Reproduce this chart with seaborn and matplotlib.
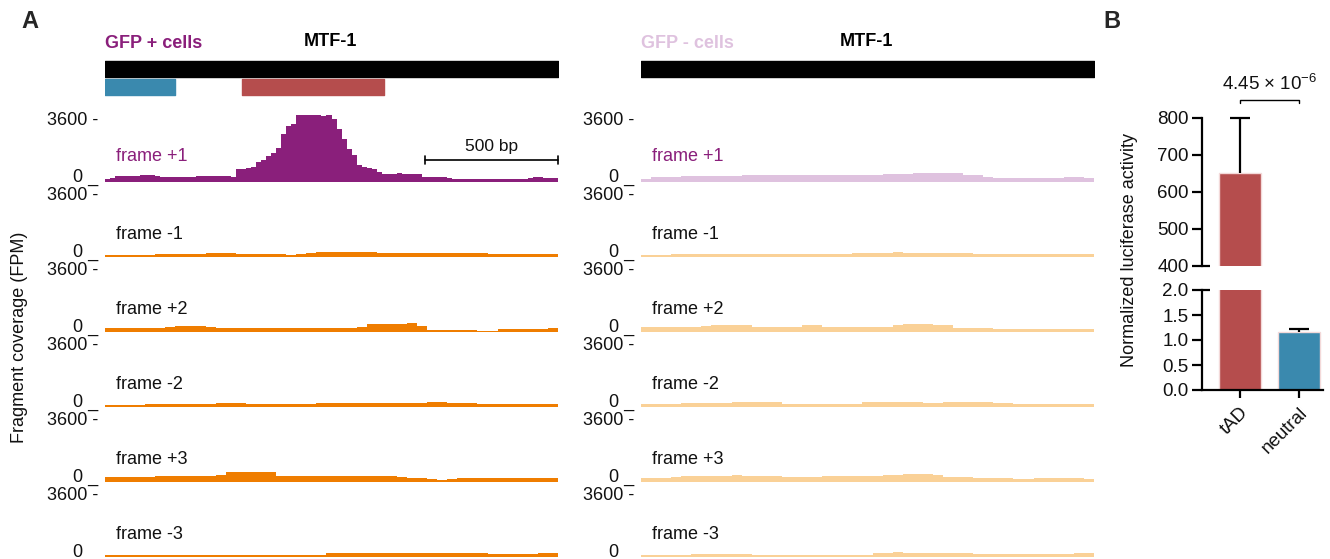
import numpy as np
import pandas as pd
import matplotlib
matplotlib.use("Agg")
import matplotlib.pyplot as plt
import matplotlib.transforms as mtransforms
import seaborn as sns

# ---------------- data ----------------
REGION_BP = 1700
SCALEBAR_BP = 500
NEUTRAL_REGION = (0, 262)
TAD_REGION = (516, 1046)
FRAMES = ["frame +1", "frame -1", "frame +2", "frame -2", "frame +3", "frame -3"]

gfp_pos_f_p1 = [160, 200, 340, 340, 340, 340, 360, 400, 400, 400,
                340, 300, 300, 300, 300, 300, 300, 300, 320, 330,
                340, 340, 340, 340, 340, 300, 760, 740, 800, 880,
                1140, 1300, 1540, 1680, 2000, 2820, 3280, 3400, 3960, 3960,
                3960, 3960, 3930, 3900, 3960, 3700, 3100, 2500, 1900, 1600,
                1000, 880, 820, 760, 600, 460, 460, 460, 500, 480,
                460, 460, 440, 280, 260, 260, 260, 250, 220, 170,
                160, 160, 150, 160, 160, 170, 160, 150, 160, 160,
                160, 160, 170, 160, 200, 260, 260, 220, 200, 200]
gfp_pos_f_m1 = [120, 120, 120, 120, 120, 160, 160, 160, 160, 180,
                200, 200, 200, 160, 160, 160, 160, 150, 120, 160,
                240, 280, 280, 280, 280, 280, 260, 200, 200, 200,
                220, 220, 220, 220, 220, 220, 220, 200, 160, 160,
                160, 160, 160, 160, 160]
gfp_pos_f_p2 = [240, 240, 240, 240, 240, 240, 300, 320, 320, 320,
                300, 240, 240, 240, 240, 240, 240, 240, 240, 240,
                240, 230, 200, 200, 200, 260, 480, 480, 470, 480,
                500, 360, 120, 120, 120, 120, 110, 60, 70, 140,
                140, 140, 140, 140, 190]
gfp_pos_f_m2 = [120, 120, 120, 120, 150, 160, 160, 160, 160, 160,
                160, 200, 220, 220, 170, 160, 160, 160, 160, 160,
                160, 190, 200, 200, 200, 200, 200, 200, 200, 200,
                200, 230, 260, 250, 220, 220, 210, 160, 160, 160,
                160, 160, 160, 160, 160]
gfp_pos_f_p3 = [260, 260, 260, 260, 300, 320, 320, 320, 320, 320,
                320, 380, 560, 560, 560, 580, 560, 320, 340, 360,
                360, 360, 360, 360, 360, 360, 360, 360, 360, 280,
                230, 200, 170, 120, 130, 200, 200, 200, 210, 220,
                220, 220, 220, 220, 220]
gfp_pos_f_m3 = [80, 80, 80, 80, 80, 80, 80, 80, 80, 80,
                80, 80, 120, 120, 120, 120, 120, 120, 120, 120,
                120, 120, 200, 200, 200, 200, 200, 200, 200, 200,
                200, 200, 200, 200, 200, 200, 200, 200, 140, 140,
                140, 140, 140, 200, 200]

gfp_neg_f_p1 = [170, 250, 250, 280, 330, 330, 340, 330, 340, 350,
                370, 370, 380, 370, 380, 390, 410, 410, 400, 390,
                390, 390, 400, 410, 430, 440, 470, 490, 510, 530,
                530, 490, 400, 370, 300, 210, 210, 230, 230, 230,
                240, 240, 260, 290, 220]
gfp_neg_f_m1 = [100, 100, 100, 160, 160, 160, 160, 160, 160, 160,
                160, 160, 160, 170, 180, 180, 180, 180, 180, 180,
                180, 240, 240, 240, 240, 300, 240, 240, 240, 240,
                240, 240, 240, 160, 160, 160, 160, 160, 160, 160,
                160, 160, 160, 160, 160]
gfp_neg_f_p2 = [300, 300, 300, 280, 260, 260, 320, 380, 380, 380,
                380, 300, 300, 300, 300, 300, 380, 380, 300, 300,
                300, 300, 300, 300, 300, 380, 440, 440, 440, 380,
                380, 240, 240, 240, 240, 180, 180, 180, 180, 180,
                180, 180, 180, 180, 180]
gfp_neg_f_m2 = [140, 140, 140, 140, 200, 200, 240, 240, 240, 280,
                280, 280, 280, 280, 180, 180, 180, 180, 180, 180,
                180, 180, 280, 280, 280, 280, 280, 280, 240, 200,
                280, 280, 280, 280, 280, 220, 220, 180, 180, 180,
                180, 180, 180, 180, 180]
gfp_neg_f_p3 = [220, 220, 220, 280, 340, 340, 340, 340, 340, 400,
                340, 340, 340, 340, 300, 260, 260, 260, 340, 340,
                340, 340, 340, 340, 380, 380, 440, 440, 440, 400,
                300, 300, 300, 220, 220, 220, 220, 180, 180, 220,
                220, 220, 220, 240, 180]
gfp_neg_f_m3 = [80, 80, 80, 80, 80, 140, 140, 140, 140, 140,
                140, 120, 120, 120, 120, 120, 120, 120, 120, 120,
                120, 120, 120, 200, 200, 260, 200, 200, 200, 200,
                200, 200, 200, 140, 140, 140, 140, 140, 140, 140,
                140, 140, 140, 220, 220]

gfp_pos_tracks = [gfp_pos_f_p1, gfp_pos_f_m1, gfp_pos_f_p2, gfp_pos_f_m2, gfp_pos_f_p3, gfp_pos_f_m3]
gfp_neg_tracks = [gfp_neg_f_p1, gfp_neg_f_m1, gfp_neg_f_p2, gfp_neg_f_m2, gfp_neg_f_p3, gfp_neg_f_m3]

luc_categories = ["tAD", "neutral"]
luc_means = [650, 1.165]
luc_err = [150, 0.055]
p_value_label = r"4.45 × 10$^{-6}$"

# ---------------- style ----------------
sns.set_theme(style="white")
plt.rcParams["font.family"] = ["Liberation Sans", "DejaVu Sans"]
plt.rcParams["mathtext.fontset"] = "custom"
plt.rcParams["mathtext.rm"] = "Liberation Sans"
plt.rcParams["mathtext.it"] = "Liberation Sans:italic"
plt.rcParams["mathtext.bf"] = "Liberation Sans:bold"
plt.rcParams["mathtext.default"] = "regular"

PURPLE = "#8a1f7b"
PINK = "#dfc2df"
ORANGE = "#ef7d00"
LIGHT_ORANGE = "#fad197"
RED = "#b54d4d"
BLUE = "#3a89ae"
TXT = "#111111"
FS = 13

W, H = 1330, 559
fig = plt.figure(figsize=(W / 100, H / 100), dpi=100)


def rect(l, t, r, b):
    return [l / W, 1 - b / H, (r - l) / W, (b - t) / H]


TRACK_H = 67.8
YMAX = 4000
panels = [
    (105, 558, gfp_pos_tracks, PURPLE, ORANGE, "GFP + cells", PURPLE, True),
    (641, 1094, gfp_neg_tracks, PINK, LIGHT_ORANGE, "GFP - cells", PINK, False),
]

for (x0, x1, tracks, c_first, c_rest, head, head_col, with_boxes) in panels:
    # header: gene bar and regions
    hax = fig.add_axes(rect(x0, 55, x1, 100))
    hax.set_xlim(0, REGION_BP)
    hax.set_ylim(100, 55)
    hax.axis("off")
    hax.broken_barh([(0, REGION_BP)], (61, 16), color="black")
    if with_boxes:
        hax.broken_barh([(NEUTRAL_REGION[0], NEUTRAL_REGION[1] - NEUTRAL_REGION[0])], (79, 16), color=BLUE)
        hax.broken_barh([(TAD_REGION[0], TAD_REGION[1] - TAD_REGION[0])], (79, 16), color=RED)
    fig.text(x0 / W, 1 - 44 / H, head, color=head_col, fontsize=13, fontweight="bold",
             ha="left", va="center")
    fig.text((x0 + 225) / W, 1 - 42 / H, "MTF-1", color="black", fontsize=13,
             fontweight="bold", ha="center", va="center")

    for k, vals in enumerate(tracks):
        base = 181.7 + 75 * k
        ax = fig.add_axes(rect(x0, base - TRACK_H, x1, base))
        nb = len(vals)
        edges = np.linspace(0, REGION_BP, nb + 1)
        centers = (edges[:-1] + edges[1:]) / 2
        df = pd.DataFrame({"pos": centers, "fpm": vals})
        sns.histplot(data=df, x="pos", weights="fpm", bins=nb, binrange=(0, REGION_BP),
                     element="step", fill=True, alpha=1, linewidth=0,
                     color=c_first if k == 0 else c_rest, ax=ax)
        ax.set_xlim(0, REGION_BP)
        ax.set_ylim(0, YMAX)
        ax.axis("off")
        tr = mtransforms.blended_transform_factory(ax.transAxes, ax.transData)
        xoff = -6.5 / (x1 - x0)
        ax.text(xoff, 3600, "3600 -", transform=tr, ha="right", va="center",
                fontsize=FS, color=TXT)
        ax.text(xoff, 0, "0 _", transform=tr, ha="right", va="baseline",
                fontsize=FS, color=TXT)
        ax.text(41, 1480 if k == 0 else 1290, FRAMES[k], ha="left", va="center",
                fontsize=FS, color=PURPLE if k == 0 else TXT)
        if k == 0 and with_boxes:
            sb0 = REGION_BP - SCALEBAR_BP
            ax.plot([sb0, REGION_BP], [1280, 1280], color="black", lw=1.2, clip_on=False)
            for xx in (sb0, REGION_BP):
                ax.plot([xx, xx], [1050, 1510], color="black", lw=1.2, clip_on=False)
            ax.text((sb0 + REGION_BP) / 2, 2100, f"{SCALEBAR_BP} bp", ha="center",
                    va="center", fontsize=FS - 0.5, color=TXT)

fig.text(20 / W, 1 - 337 / H, "Fragment coverage (FPM)", rotation=90, ha="center",
         va="center", fontsize=FS, color=TXT)
fig.text(30 / W, 1 - 22 / H, "A", fontsize=17, fontweight="bold", ha="center", va="center")
fig.text(1112 / W, 1 - 22 / H, "B", fontsize=17, fontweight="bold", ha="center", va="center")

# ---------------- panel B ----------------
LW = 1.6
ax_up = fig.add_axes(rect(1201.7, 117.7, 1323, 265.7))
ax_lo = fig.add_axes(rect(1201.7, 290, 1323, 390))
bdf = pd.DataFrame({"cat": luc_categories, "val": luc_means})
for ax in (ax_up, ax_lo):
    sns.barplot(data=bdf, x="cat", y="val", hue="cat", palette=[RED, BLUE], legend=False,
                saturation=1, width=0.707, edgecolor="#f3d9d9", linewidth=1,
                errorbar=None, ax=ax)
    ax.set_xlim(-0.65, 1.41)
    ax.set_xlabel("")
    ax.set_ylabel("")
    for s in ("top", "right"):
        ax.spines[s].set_visible(False)
    ax.spines["left"].set_linewidth(LW)
    ax.spines["left"].set_color("black")
    ax.tick_params(axis="y", length=7.5, width=LW, color="black", labelsize=13.5,
                   pad=2, left=True, labelcolor=TXT)


def upper_error(ax, i, clip):
    top = luc_means[i] + luc_err[i]
    ax.errorbar([i], [luc_means[i]], yerr=[[0], [luc_err[i]]], fmt="none",
                ecolor="black", elinewidth=LW, capsize=0, clip_on=clip)
    ax.plot([i], [top], marker="_", markersize=15, markeredgewidth=LW,
            color="black", clip_on=clip)


upper_error(ax_up, 0, False)
upper_error(ax_lo, 1, True)

ax_up.set_ylim(400, 800)
ax_up.set_yticks([400, 500, 600, 700, 800])
ax_up.spines["bottom"].set_visible(False)
ax_up.set_xticks([])
ax_up.plot([0, 8 / 121.3], [0, 0], transform=ax_up.transAxes, color="black", lw=LW,
           clip_on=False, solid_capstyle="butt")

ax_lo.set_ylim(0, 2)
ax_lo.set_yticks([0, 0.5, 1.0, 1.5, 2.0])
ax_lo.set_yticklabels(["0.0", "0.5", "1.0", "1.5", "2.0"])
ax_lo.spines["bottom"].set_linewidth(LW)
ax_lo.spines["bottom"].set_color("black")
ax_lo.set_xticks([0, 1])
ax_lo.set_xticklabels(luc_categories, rotation=45, ha="right", rotation_mode="anchor",
                      fontsize=13.5, color=TXT)
ax_lo.tick_params(axis="x", length=6, width=LW, color="black", bottom=True, pad=4)
ax_lo.plot([0, 8 / 121.3], [1, 1], transform=ax_lo.transAxes, color="black", lw=LW,
           clip_on=False, solid_capstyle="butt")

# significance bracket
ax_up.plot([0, 0, 1, 1], [841, 848, 848, 841], color="black", lw=1, clip_on=False)
ax_up.text(0.5, 890, p_value_label, ha="center", va="center", fontsize=13.5, color=TXT)

fig.text(1129 / W, 1 - 250 / H, "Normalized luciferase activity", rotation=90,
         ha="center", va="center", fontsize=FS, color=TXT)

fig.savefig("out.png", dpi=100)
